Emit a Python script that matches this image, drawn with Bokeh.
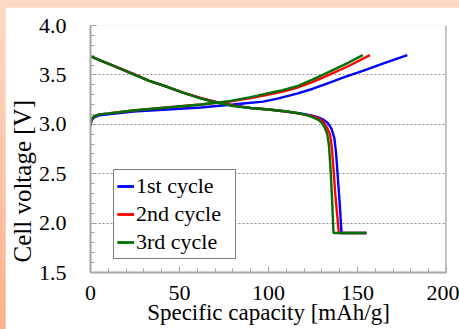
from bokeh.plotting import figure
from bokeh.models import (FixedTicker, Legend, LegendItem, Span, Title, Range1d)
from bokeh.layouts import column
from bokeh.embed import file_html
from bokeh.resources import INLINE

# ---- data ----
cyc_names = ["1st cycle", "2nd cycle", "3rd cycle"]
cyc_colors = ["#0000ff", "#ff0000", "#007000"]

chg1_cap = [0, 0.5, 2, 5, 10, 24, 43, 62, 80, 97, 105, 116, 125, 134, 143, 153, 165, 178]
chg1_v = [2.98, 3.04, 3.07, 3.09, 3.10, 3.13, 3.15, 3.17, 3.20, 3.23, 3.26, 3.31, 3.36, 3.42, 3.48, 3.54, 3.62, 3.70]

chg2_cap = [0, 0.5, 2, 5, 10, 24, 43, 62, 78, 90, 100, 108, 116, 125, 134, 145, 157]
chg2_v = [2.99, 3.05, 3.08, 3.10, 3.11, 3.14, 3.17, 3.20, 3.23, 3.265, 3.30, 3.33, 3.37, 3.43, 3.50, 3.59, 3.70]

chg3_cap = [0, 0.5, 2, 5, 10, 24, 43, 62, 78, 90, 100, 108, 116, 125, 134, 145, 153]
chg3_v = [2.99, 3.05, 3.08, 3.10, 3.11, 3.14, 3.17, 3.20, 3.235, 3.275, 3.315, 3.345, 3.385, 3.455, 3.53, 3.625, 3.70]

dis1_cap = [0, 5, 12, 24, 33, 43, 52, 62, 72, 80, 90, 100, 110, 118, 124, 128, 131, 133.5, 135.5, 137, 138, 139, 140, 141, 155]
dis1_v = [3.69, 3.65, 3.60, 3.51, 3.44, 3.38, 3.32, 3.265, 3.22, 3.19, 3.165, 3.15, 3.13, 3.11, 3.09, 3.07, 3.045, 3.01, 2.95, 2.86, 2.70, 2.45, 2.20, 1.90, 1.90]

dis2_cap = [0, 5, 12, 24, 33, 43, 52, 62, 72, 80, 90, 100, 110, 118, 124, 128, 130.5, 132.5, 134.5, 135.5, 136.5, 137.5, 138.5, 139.5, 155]
dis2_v = [3.69, 3.65, 3.60, 3.51, 3.44, 3.38, 3.32, 3.265, 3.22, 3.19, 3.165, 3.15, 3.13, 3.105, 3.085, 3.06, 3.03, 2.98, 2.90, 2.78, 2.55, 2.30, 2.10, 1.90, 1.90]

dis3_cap = [0, 5, 12, 24, 33, 43, 52, 62, 72, 80, 90, 100, 110, 116, 121, 125, 128, 130, 131.5, 133, 134, 135, 135.7, 136.5, 155]
dis3_v = [3.69, 3.65, 3.60, 3.505, 3.44, 3.38, 3.32, 3.26, 3.215, 3.185, 3.165, 3.15, 3.13, 3.114, 3.095, 3.07, 3.045, 3.015, 2.97, 2.90, 2.78, 2.50, 2.25, 1.90, 1.90]

x_ticks = [0, 50, 100, 150, 200]
x_tick_labels = ["0", "50", "100", "150", "200"]
y_ticks = [1.5, 2.0, 2.5, 3.0, 3.5, 4.0]
y_tick_labels = ["1.5", "2.0", "2.5", "3.0", "3.5", "4.0"]
x_minor = list(range(0, 201, 10))
y_minor = [round(1.5 + 0.1 * i, 1) for i in range(26)]
x_title = "Specific capacity [mAh/g]"
y_title = "Cell voltage [V]"

FONT = "Liberation Serif"
GRAY = "#a6a6a6"

p = figure(width=454, height=322, output_backend="svg", toolbar_location=None,
           x_range=Range1d(0, 200), y_range=Range1d(1.5, 4.0),
           min_border_left=85, min_border_right=13, min_border_top=18, min_border_bottom=57)
p.background_fill_color = "white"
p.border_fill_color = "white"
p.outline_line_color = None

charges = [(chg1_cap, chg1_v), (chg2_cap, chg2_v), (chg3_cap, chg3_v)]
discharges = [(dis1_cap, dis1_v), (dis2_cap, dis2_v), (dis3_cap, dis3_v)]
items = []
for name, col, (cx, cy), (dx, dy) in zip(cyc_names, cyc_colors, charges, discharges):
    r1 = p.line(cx, cy, line_color=col, line_width=2.4)
    r2 = p.line(dx, dy, line_color=col, line_width=2.4)
    items.append(LegendItem(label=name, renderers=[r1, r2]))

# axes
p.xaxis.ticker = FixedTicker(ticks=x_ticks, minor_ticks=x_minor)
p.yaxis.ticker = FixedTicker(ticks=y_ticks, minor_ticks=y_minor)
p.xaxis.major_label_overrides = dict(zip(x_ticks, x_tick_labels))
p.yaxis.major_label_overrides = dict(zip(y_ticks, y_tick_labels))
for ax in (p.xaxis[0], p.yaxis[0]):
    ax.axis_line_color = GRAY
    ax.axis_line_width = 2
    ax.major_tick_line_color = GRAY
    ax.minor_tick_line_color = GRAY
    ax.major_tick_in = 6
    ax.major_tick_out = 0
    ax.minor_tick_in = 4
    ax.minor_tick_out = 0
    ax.major_label_text_font = FONT
    ax.major_label_text_font_size = "22px"
    ax.major_label_text_color = "black"
p.xaxis.major_label_standoff = 13
p.yaxis.major_label_standoff = 24
p.xaxis.axis_label = x_title
p.xaxis.axis_label_text_font = FONT
p.xaxis.axis_label_text_font_size = "23px"
p.xaxis.axis_label_text_font_style = "normal"
p.xaxis.axis_label_text_color = "black"
p.xaxis.axis_label_standoff = -3

ytitle = Title(text=y_title, align="left", offset=10,
               text_font=FONT, text_font_size="25px", text_font_style="normal",
               text_color="black", standoff=0)
p.add_layout(ytitle, "left")

p.xgrid.grid_line_color = None
p.ygrid.grid_line_color = "#8c8c8c"
p.ygrid.grid_line_dash = "2 2"
p.ygrid.grid_line_width = 1

p.add_layout(Span(location=200, dimension="height", line_color=GRAY, line_width=2.5))

legend = Legend(items=items, location=(23, 13))
legend.label_text_font = FONT
legend.label_text_font_size = "22px"
legend.label_text_color = "black"
legend.glyph_width = 17
legend.glyph_height = 22
legend.label_height = 22
legend.label_width = 96
legend.label_standoff = 2
legend.spacing = 2
legend.padding = 3
legend.margin = 0
legend.border_line_color = "black"
legend.border_line_width = 1.5
legend.background_fill_color = "white"
legend.background_fill_alpha = 1
p.add_layout(legend)

layout = column(p, styles={"background": "linear-gradient(to bottom, #fdd9c6, #fdb18c)",
                           "padding-top": "7px", "padding-left": "5px"})

open("out.html", "w").write(file_html(layout, INLINE))
